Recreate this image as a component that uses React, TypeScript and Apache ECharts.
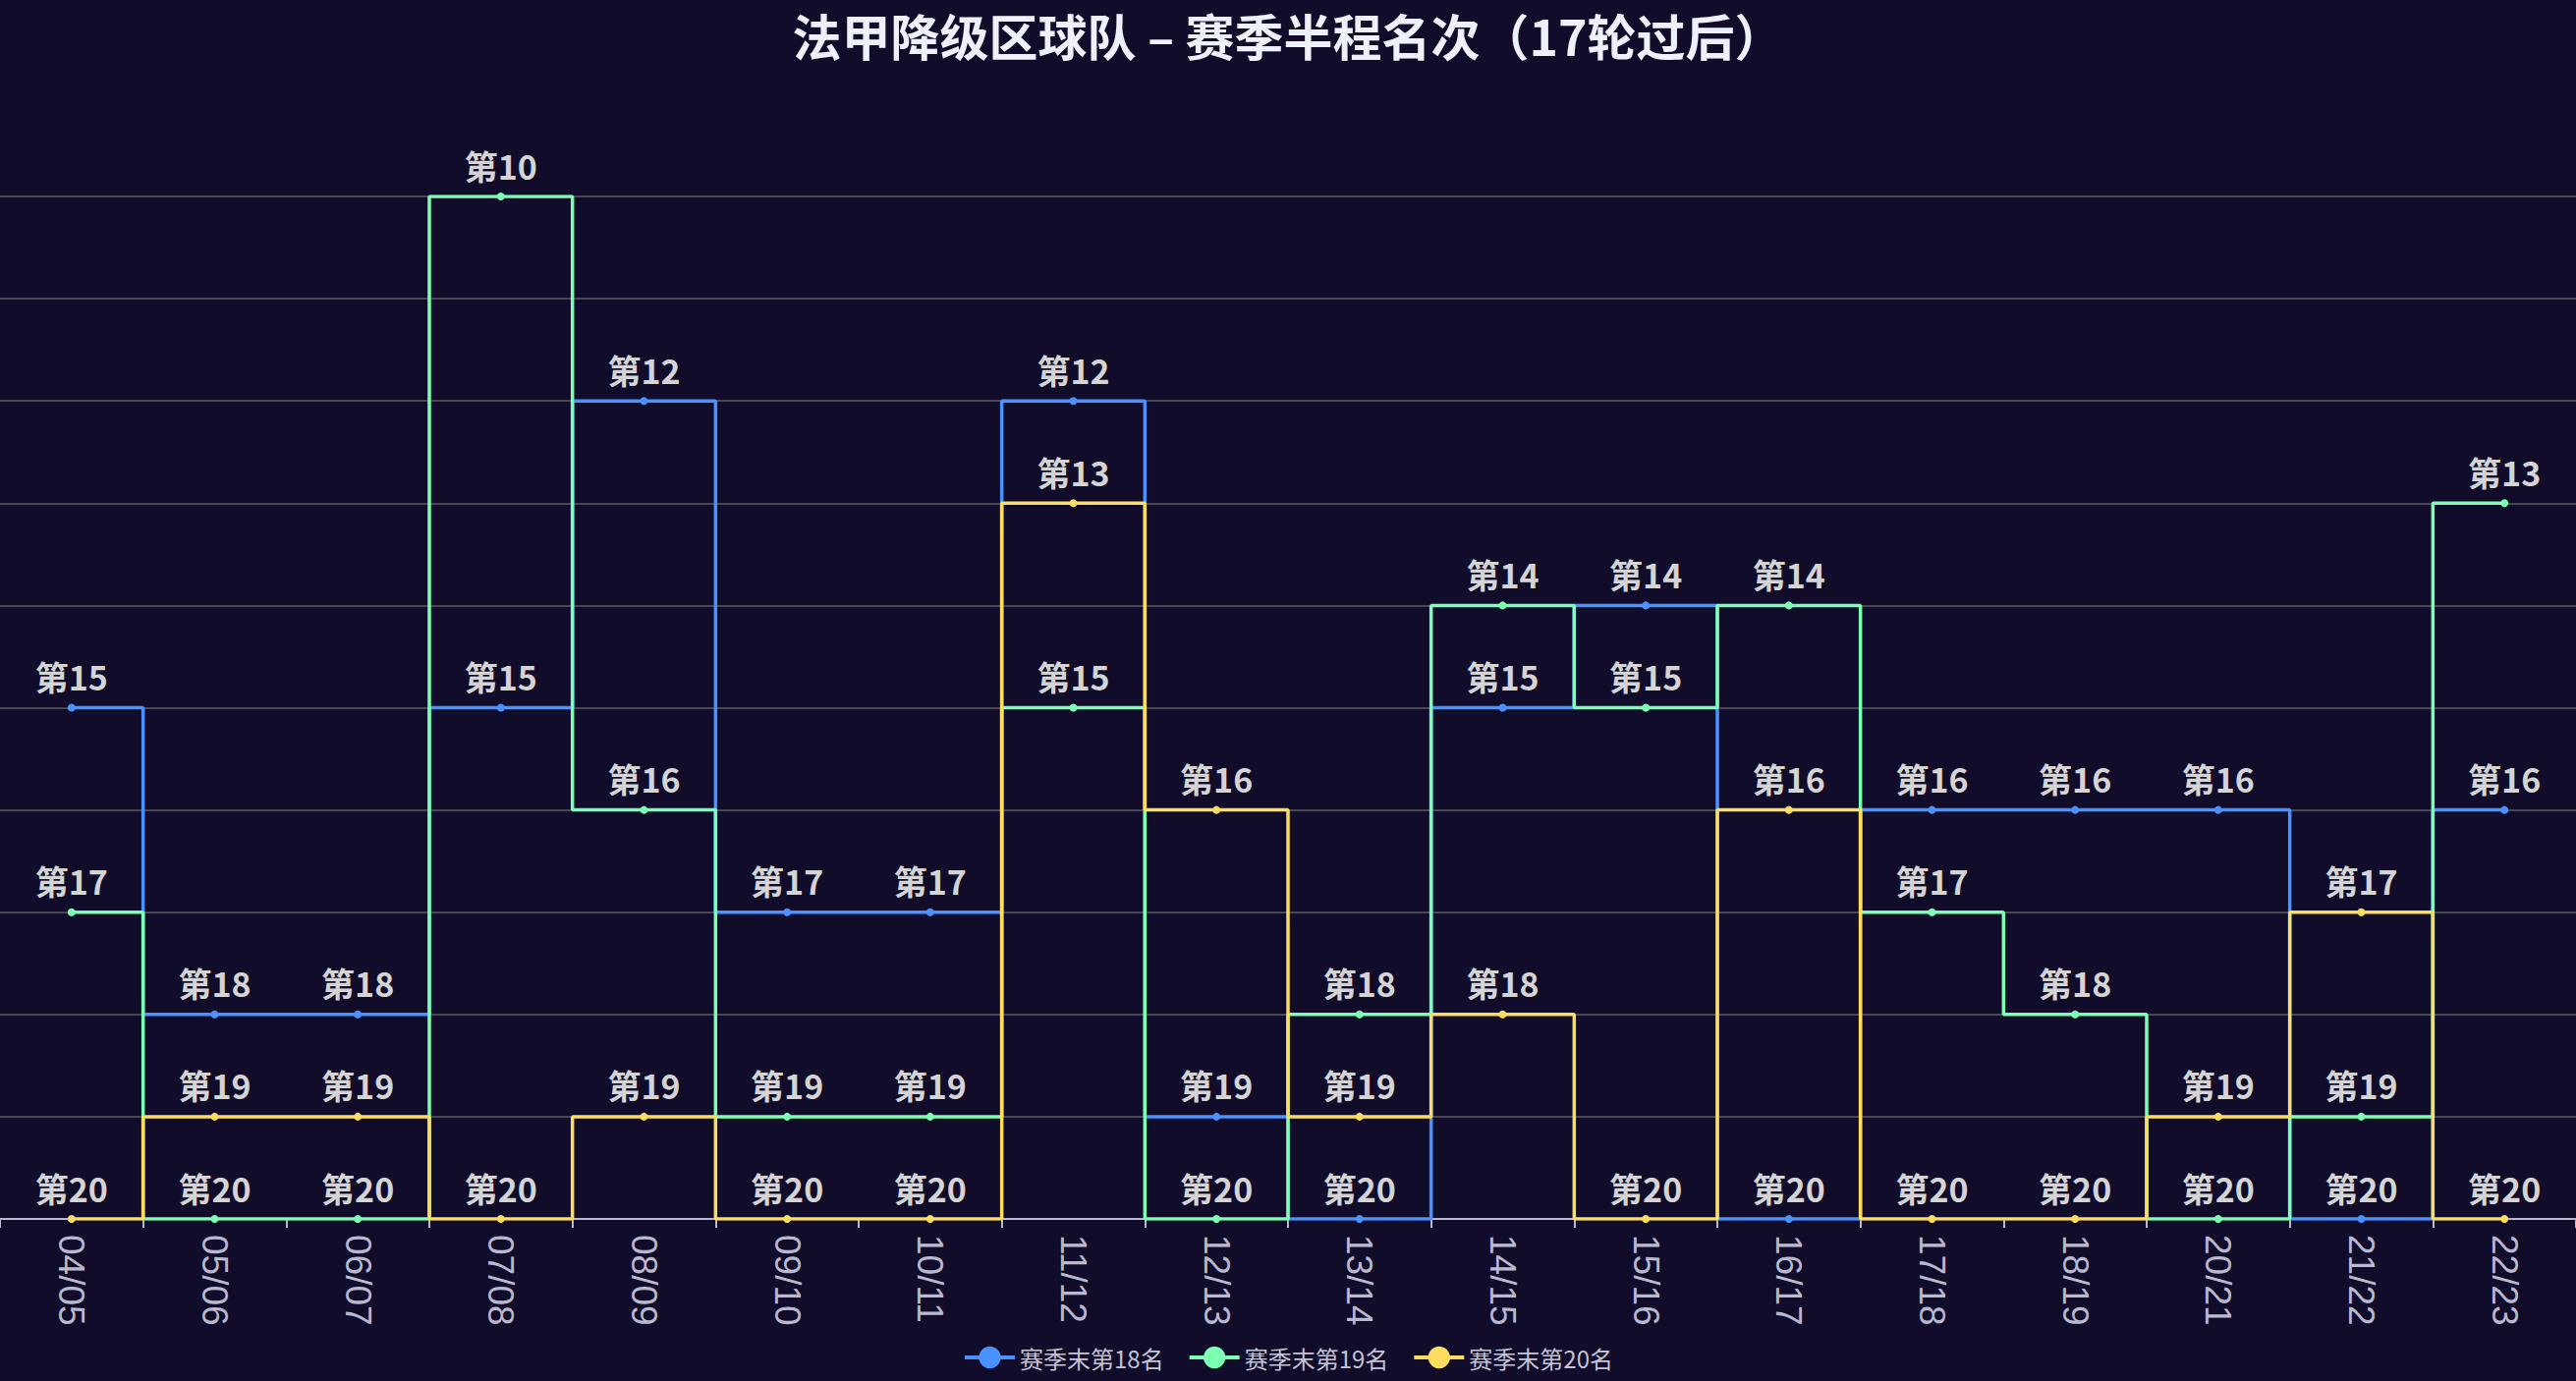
import React, { useEffect, useRef } from "react";
import * as echarts from "echarts";

const seasons = ["04/05", "05/06", "06/07", "07/08", "08/09", "09/10", "10/11", "11/12", "12/13", "13/14", "14/15", "15/16", "16/17", "17/18", "18/19", "20/21", "21/22", "22/23"];
const rank18 = [15, 18, 18, 15, 12, 17, 17, 12, 19, 20, 15, 14, 20, 16, 16, 16, 20, 16];
const rank19 = [17, 20, 20, 10, 16, 19, 19, 15, 20, 18, 14, 15, 14, 17, 18, 20, 19, 13];
const rank20 = [20, 19, 19, 20, 19, 20, 20, 13, 16, 19, 18, 20, 16, 20, 20, 19, 17, 20];
const seriesNames = ["赛季末第18名", "赛季末第19名", "赛季末第20名"];
const colors = ["#4992ff", "#7cffb2", "#fddd60"];

export default function App() {
  const ref = useRef<HTMLDivElement>(null);
  useEffect(() => {
    if (!ref.current) return;
    const chart = echarts.init(ref.current, null, { renderer: "svg" });
    const cjk = "'Noto Sans CJK SC', 'Noto Sans', sans-serif";
    const data = [rank18, rank19, rank20];
    chart.setOption({
      animation: false,
      backgroundColor: "#100c2a",
      color: colors,
      title: {
        text: "法甲降级区球队 – 赛季半程名次（17轮过后）",
        left: "center",
        top: 8,
        padding: 0,
        textStyle: { color: "#eef1fa", fontSize: 50, lineHeight: 54, fontWeight: "bold", fontFamily: cjk },
      },
      legend: {
        bottom: 7,
        left: "center",
        itemWidth: 51,
        itemHeight: 28,
        itemGap: 24,
        lineStyle: { width: 4 },
        textStyle: { color: "#c4c3d6", fontSize: 24, fontFamily: cjk },
        data: seriesNames,
      },
      grid: { left: 0, right: 0, top: 200, bottom: 165, containLabel: false },
      xAxis: {
        type: "category",
        data: seasons,
        boundaryGap: true,
        axisLine: { show: true, lineStyle: { color: "#b9b8ce", width: 2 } },
        axisTick: { show: true, length: 9, lineStyle: { color: "#b9b8ce", width: 2 } },
        axisLabel: {
          rotate: -90,
          margin: 16,
          color: "#b9b8ce",
          fontSize: 37,
          fontFamily: "'Liberation Sans', Arial, sans-serif",
        },
        splitLine: { show: false },
      },
      yAxis: {
        type: "value",
        inverse: true,
        min: 10,
        max: 20,
        interval: 1,
        axisLine: { show: false },
        axisTick: { show: false },
        axisLabel: { show: false },
        splitLine: { show: true, lineStyle: { color: "#484753", width: 2 } },
      },
      series: data.map((d, i) => ({
        name: seriesNames[i],
        type: "line",
        step: "middle",
        data: d,
        symbol: "circle",
        symbolSize: 8,
        lineStyle: { width: 3.5, color: colors[i] },
        itemStyle: { color: colors[i] },
        label: {
          show: true,
          position: "top",
          distance: 11,
          color: "#d4d4d4",
          fontSize: 34,
          fontWeight: "bold",
          fontFamily: cjk,
          formatter: (p: any) => "第" + p.value,
        },
      })),
    });
    return () => chart.dispose();
  }, []);
  return <div ref={ref} style={{ width: 2622, height: 1406, position: "absolute", left: 0, top: 0 }} />;
}
